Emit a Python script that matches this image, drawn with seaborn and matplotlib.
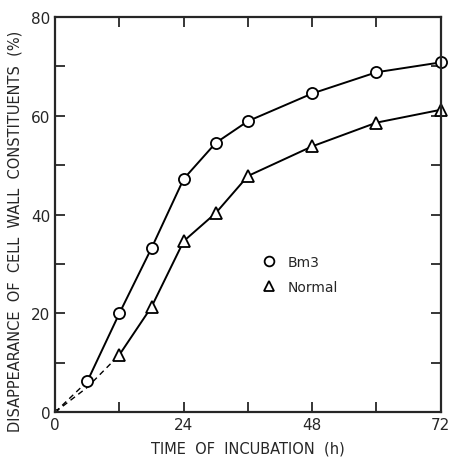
import numpy as np
import pandas as pd
import matplotlib
matplotlib.use('Agg')
import matplotlib.pyplot as plt
import seaborn as sns
from matplotlib.ticker import MultipleLocator

# Values
hours = [6, 12, 18, 24, 30, 36, 48, 60, 72]
bm3 = [6.2, 20.0, 33.2, 47.2, 54.5, 58.9, 64.5, 68.8, 70.8]
normal_hours = [12, 18, 24, 30, 36, 48, 60, 72]
normal = [11.6, 21.3, 34.6, 40.3, 47.8, 53.8, 58.6, 61.2]
labels = ['Bm3', 'Normal']

# early part of each curve, drawn dashed in the original
bm3_start_hours = [0, 6]
bm3_start = [0, 6.2]
normal_start_hours = [0, 6, 12]
normal_start = [0, 5.0, 11.6]

sns.set_style('ticks')
plt.rcParams['font.family'] = ['DejaVu Sans']

df = pd.DataFrame({
    'hour': hours + normal_hours,
    'value': bm3 + normal,
    'line': [labels[0]] * len(hours) + [labels[1]] * len(normal_hours),
})

fig = plt.figure(figsize=(4.52, 4.60), dpi=100)
ax = fig.add_axes([0.122, 0.102, 0.853, 0.859])

sns.lineplot(x=bm3_start_hours, y=bm3_start, color='black', linewidth=1.0,
             linestyle=(0, (4, 3)), ax=ax, legend=False)
sns.lineplot(x=normal_start_hours, y=normal_start, color='black', linewidth=1.0,
             linestyle=(0, (4, 3)), ax=ax, legend=False)
ax.plot([0], [0], marker='o', markersize=4, markerfacecolor='white',
        markeredgecolor='black', linestyle='none')

sns.lineplot(data=df, x='hour', y='value', hue='line', style='line',
             palette={'Bm3': 'black', 'Normal': 'black'},
             markers={'Bm3': 'o', 'Normal': '^'}, dashes=False,
             markersize=8, markerfacecolor='white', markeredgecolor='black',
             markeredgewidth=1.3, linewidth=1.4, ax=ax, clip_on=False)

ax.set_xlim(0, 72)
ax.set_ylim(0, 80)
ax.xaxis.set_major_locator(MultipleLocator(24))
ax.xaxis.set_minor_locator(MultipleLocator(12))
ax.yaxis.set_major_locator(MultipleLocator(20))
ax.yaxis.set_minor_locator(MultipleLocator(10))
ax.tick_params(which='both', direction='in', top=True, right=True,
               labelsize=11, width=1.3, length=7)
for s in ax.spines.values():
    s.set_linewidth(1.6)
    s.set_visible(True)

ax.set_xlabel('TIME  OF  INCUBATION  (h)', fontsize=10.5, labelpad=6)
ax.set_ylabel('DISAPPEARANCE  OF  CELL  WALL  CONSTITUENTS  (%)', fontsize=10.5)
ax.yaxis.set_label_coords(-0.085, 0.46)

leg = ax.legend(loc='upper left', bbox_to_anchor=(0.505, 0.43), frameon=False,
                fontsize=10, handlelength=1.0, handletextpad=0.8,
                labelspacing=0.8, title=None)
for h in leg.legend_handles:
    h.set_linestyle('none')
    h.set_markersize(7)

fig.savefig('out.png', dpi=100)
